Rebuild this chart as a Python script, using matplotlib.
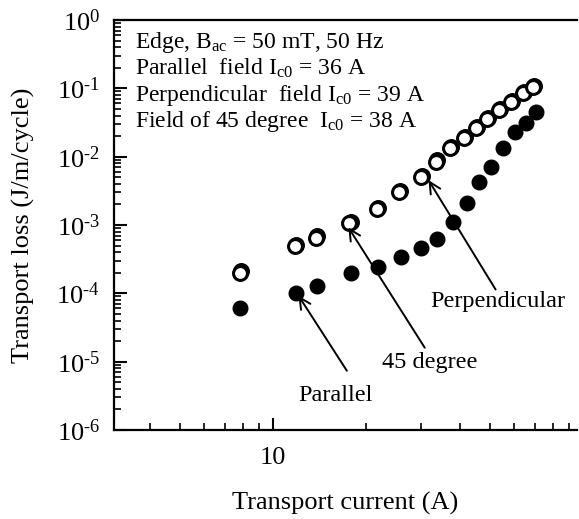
import matplotlib
matplotlib.use("Agg")
import matplotlib.pyplot as plt

plt.rcParams['font.family'] = ['Liberation Serif', 'DejaVu Serif']
plt.rcParams['mathtext.fontset'] = 'custom'
plt.rcParams['mathtext.rm'] = 'Liberation Serif'
plt.rcParams['mathtext.it'] = 'Liberation Serif:italic'

# Parallel field (filled)
par_I = [7.83, 11.9, 13.9, 17.9, 21.8, 25.9, 30.0, 33.8, 38.1, 42.3, 46.3, 50.5, 55.2, 60.4, 65.5, 70.5]
par_Q = [6.1e-5, 1.0e-4, 1.3e-4, 2.0e-4, 2.4e-4, 3.4e-4, 4.6e-4, 6.3e-4, 1.1e-3, 2.1e-3,
         4.3e-3, 7.1e-3, 1.34e-2, 2.3e-2, 3.1e-2, 4.5e-2]

# Perpendicular field (open)
perp_I = [7.8, 11.8, 13.8, 17.6, 21.6, 25.5, 30.0, 33.6, 37.2, 41.3, 45.2, 49.0, 53.6, 58.6, 64.0, 69.0]
perp_Q = [2.0e-4, 4.9e-4, 6.5e-4, 1.07e-3, 1.7e-3, 3.0e-3, 5.0e-3, 8.3e-3, 1.34e-2, 1.87e-2,
          2.6e-2, 3.55e-2, 4.8e-2, 6.3e-2, 8.5e-2, 0.105]

# 45 degree field (open, almost on top of perpendicular)
d45_I = [7.9, 11.9, 13.9, 17.8, 21.8, 25.7, 30.2, 33.9, 37.5, 41.6, 45.6, 49.4, 54.0, 59.0, 64.5, 69.6]
d45_Q = [2.1e-4, 5.1e-4, 6.8e-4, 1.12e-3, 1.8e-3, 3.1e-3, 5.3e-3, 8.8e-3, 1.4e-2, 1.95e-2,
         2.7e-2, 3.7e-2, 5.0e-2, 6.6e-2, 8.9e-2, 0.11]

y_exps = [-6, -5, -4, -3, -2, -1, 0]

info_lines = [
    r"Edge, $\mathrm{B_{ac}}$ = 50 mT, 50 Hz",
    r"Parallel  field $\mathrm{I_{c0}}$ = 36 A",
    r"Perpendicular  field $\mathrm{I_{c0}}$ = 39 A",
    r"Field of 45 degree  $\mathrm{I_{c0}}$ = 38 A",
]

fig = plt.figure(figsize=(5.79, 5.19), dpi=100)
ax = fig.add_axes([114 / 579, 1 - 430 / 519, 463 / 579, 410 / 519])

ax.plot(d45_I, d45_Q, 'o', ms=10, mfc='white', mec='black', mew=2.2)
ax.plot(perp_I, perp_Q, 'o', ms=10, mfc='white', mec='black', mew=2.2)
ax.plot(par_I, par_Q, 'o', ms=10.5, mfc='black', mec='black')

ax.set_xscale('log')
ax.set_yscale('log')
ax.set_xlim(3.07, 95.6)
ax.set_ylim(1e-6, 1)
ax.set_xticks([10])
ax.set_xticklabels(['10'])
ax.set_yticks([10.0 ** e for e in y_exps])
labels = []
for e in y_exps:
    if e < 0:
        labels.append(r'$\mathrm{10^{\text{-}%d}}$' % -e)
    else:
        labels.append(r'$\mathrm{10^{%d}}$' % e)
ax.set_yticklabels(labels)

ax.tick_params(which='major', direction='in', length=9, width=1.5, labelsize=19)
ax.tick_params(which='minor', direction='in', length=5, width=1.2)
ax.tick_params(axis='x', pad=12)
ax.tick_params(axis='y', pad=10)
for s in ['left', 'bottom', 'top']:
    ax.spines[s].set_linewidth(1.6)
ax.spines['right'].set_visible(False)

ax.set_xlabel('Transport current (A)', fontsize=19)
ax.set_ylabel('Transport loss (J/m/cycle)', fontsize=19)
ax.xaxis.set_label_coords(0.5, -0.15)
ax.yaxis.set_label_coords(-0.17, 0.5)

for k, line in enumerate(info_lines):
    ax.text(0.045, 0.945 - k * 0.064, line, transform=ax.transAxes, fontsize=17,
            va='center', ha='left')

arrow = dict(arrowstyle='->', lw=1.4, color='black', mutation_scale=20)
ax.annotate('', xy=(11.95, 1.0e-4), xytext=(17.5, 6.8e-6), arrowprops=arrow)
ax.text(15.85, 3.25e-6, 'Parallel', fontsize=17.5, ha='center', va='center')
ax.annotate('', xy=(17.3, 1.0e-3), xytext=(31.2, 1.48e-5), arrowprops=arrow)
ax.text(32.1, 9.6e-6, '45 degree', fontsize=17.5, ha='center', va='center')
ax.annotate('', xy=(31.4, 4.9e-3), xytext=(52.8, 1.05e-4), arrowprops=arrow)
ax.text(53.2, 7.5e-5, 'Perpendicular', fontsize=17.5, ha='center', va='center')

fig.savefig('out.png', dpi=100)
